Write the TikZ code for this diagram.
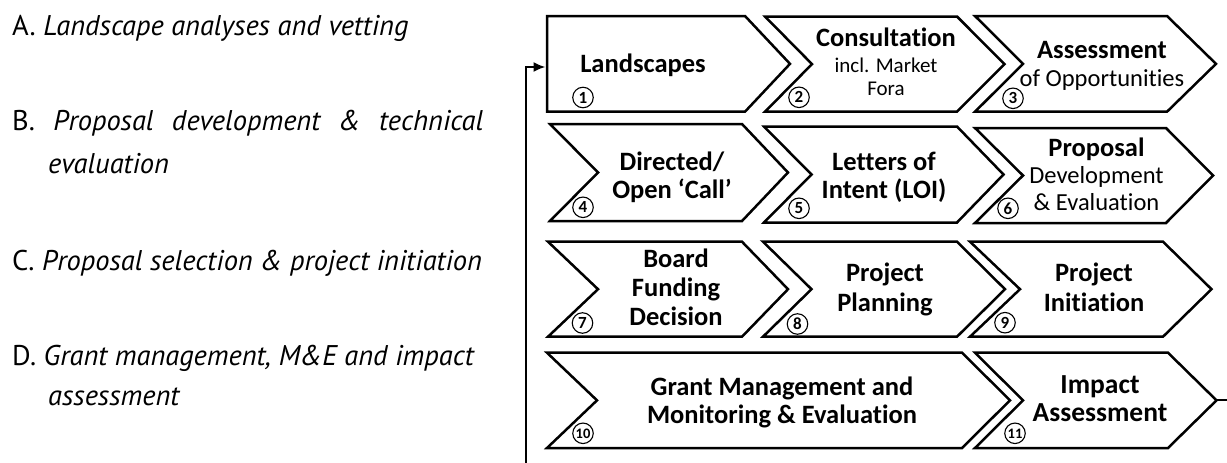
\documentclass[tikz,border=0pt]{standalone}
\usepackage{fontspec}
\setmainfont{Carlito}[Ligatures=NoCommon]
\newfontfamily\leftfont{PT Sans}
\usetikzlibrary{arrows.meta}
\newcommand\boxbf{\fontsize{26.5}{27}\bfseries\selectfont}
\newcommand\chevbox[7]{%
  \draw[boxline] (#2,#6) -- (#4,#6) -- (#5,{(#6+#7)/2}) -- (#4,#7) -- (#2,#7) -- (#3,{(#6+#7)/2}) -- cycle;
  \coordinate (#1-e) at (#5,{(#6+#7)/2});
}
\tikzset{
  boxline/.style={line width=2.5pt, line join=miter, fill=white},
  lbl/.style={align=center, inner sep=0pt, anchor=base, font=\fontsize{26.5}{29}\bfseries\selectfont},
  lbltwo/.style={align=center, inner sep=0pt, anchor=base, font=\fontsize{21}{22.3}\selectfont},
  num/.style={circle, draw, line width=1.1pt, minimum size=20.5pt, inner sep=0pt, font=\fontsize{17}{17}\bfseries\selectfont},
  item/.style={anchor=base west, inner sep=0pt, font=\leftfont\fontsize{28.5}{30}\selectfont},
  loopline/.style={line width=2pt},
}
\begin{document}
\begin{tikzpicture}[x=1pt,y=-1pt]
\fill[white] (0,0) rectangle (1227,463);
\useasboundingbox (0,0) rectangle (1227,463);

% left list
\node[item] (iA) at (12,35) {A. \textit{Landscape analyses and vetting}};
\node[item] (iB) at (12,130) {\makebox[471pt][s]{B. \textit{Proposal development \& technical}}};
\node[item] (iBb) at (48,173) {\textit{evaluation}};
\node[item] (iC) at (12,270) {C. \textit{Proposal selection \& project initiation}};
\node[item] (iD) at (12,365) {D. \textit{Grant management, M\&E and impact}};
\node[item] (iDb) at (48,405) {\textit{assessment}};

% chevrons
\chevbox{b1}{547}{547}{745}{790}{16}{111.7}
\chevbox{b2}{765}{812}{957}{1004.5}{16.5}{111.7}
\chevbox{b3}{975}{1023}{1167}{1216}{16}{111.7}
\chevbox{b4}{550}{598}{742}{788}{124}{221}
\chevbox{b5}{764}{811.5}{957}{1003.5}{126.5}{222.5}
\chevbox{b6}{975}{1023}{1166}{1213}{128}{223}
\chevbox{b7}{548}{598}{742}{788}{241.7}{336.7}
\chevbox{b8}{763}{811.5}{957}{1005}{241.7}{336.7}
\chevbox{b9}{970}{1020}{1163}{1211.5}{241.7}{336.7}
\chevbox{b10}{547}{597}{962}{1010}{352.7}{448}
\chevbox{b11}{975}{1023}{1168}{1216.5}{352.7}{448}

% texts (anchor = baseline of the last line)
\node[lbl] (t1) at (643,72) {Landscapes};
\node[lbltwo] (t2) at (886,95) {{\boxbf Consultation}\\[3.5pt]incl. Market\\Fora};
\node[lbltwo, font=\fontsize{24.5}{25}\selectfont] (t3) at (1102,86) {{\boxbf Assessment}\\[2.7pt]of Opportunities};
\node[lbl, font=\fontsize{26.5}{28}\bfseries\selectfont] (t4) at (672,198.3) {Directed/\\Open ‘Call’};
\node[lbl, font=\fontsize{26.5}{28}\bfseries\selectfont] (t5) at (884,198) {Letters of\\Intent (LOI)};
\node[lbltwo, font=\fontsize{24.5}{26.6}\selectfont] (t6) at (1096.5,210) {{\boxbf Proposal}\\Development\\\& Evaluation};
\node[lbl] (t7) at (676,325) {Board\\Funding\\Decision};
\node[lbl, font=\fontsize{26.5}{30}\bfseries\selectfont] (t8) at (885,311.7) {Project\\Planning};
\node[lbl, font=\fontsize{26.5}{30}\bfseries\selectfont] (t9) at (1094,311.7) {Project\\Initiation};
\node[lbl, font=\fontsize{26.5}{28}\bfseries\selectfont] (t10) at (782,423) {Grant Management and\\Monitoring \& Evaluation};
\node[lbl, font=\fontsize{27.5}{28.7}\bfseries\selectfont] (t11) at (1100,421.7) {Impact\\Assessment};

% step numbers
\node[num] (c1) at (583,97.5) {1};
\node[num] (c2) at (799,97.3) {2};
\node[num] (c3) at (1013,98.3) {3};
\node[num] (c4) at (583,207.3) {4};
\node[num] (c5) at (799,208.3) {5};
\node[num] (c6) at (1008,208.3) {6};
\node[num] (c7) at (582.5,323) {7};
\node[num] (c8) at (797.5,324) {8};
\node[num] (c9) at (1005,322.7) {9};
\node[num, font=\fontsize{14.5}{14.5}\bfseries\selectfont] (c10) at (583,433.3) {10};
\node[num, font=\fontsize{14.5}{14.5}\bfseries\selectfont] (c11) at (1015,433.3) {11};

% loop connectors
\coordinate (loopbot) at (525.5,463);
\coordinate (b1in) at (545.5,67);
\coordinate (rightend) at (1227,400);
\draw[loopline, -{Latex[length=12pt,width=10pt]}] (loopbot) |- (b1in);
\draw[loopline] (b11-e) -- (b11-e -| rightend);
\end{tikzpicture}
\end{document}
